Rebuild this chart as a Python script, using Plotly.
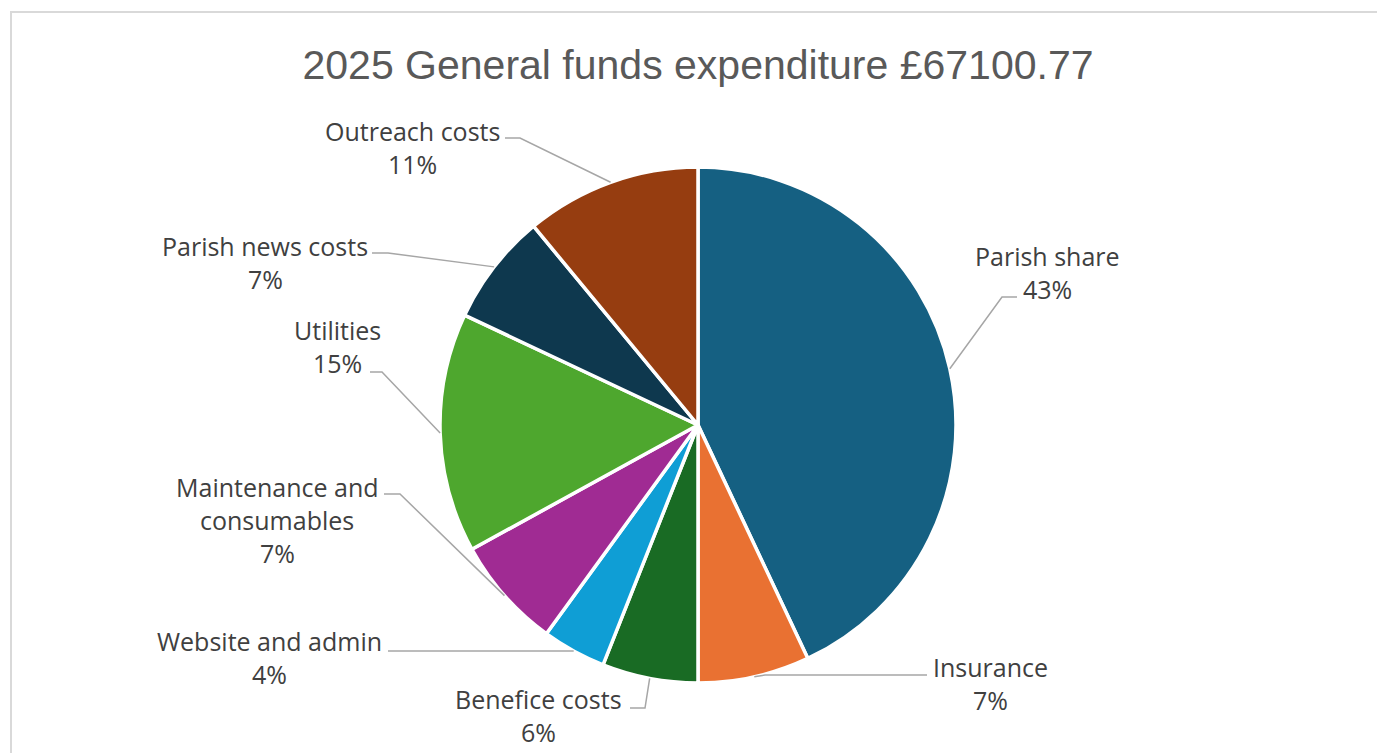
import math
import plotly.graph_objects as go

# Expenditure breakdown (percent of total general funds)
categories = [
    "Parish share",
    "Insurance",
    "Benefice costs",
    "Website and admin",
    "Maintenance and consumables",
    "Utilities",
    "Parish news costs",
    "Outreach costs",
]
percent_share = [43, 7, 6, 4, 7, 15, 7, 11]
label_lines = [
    ["Parish share"],
    ["Insurance"],
    ["Benefice costs"],
    ["Website and admin"],
    ["Maintenance and", "consumables"],
    ["Utilities"],
    ["Parish news costs"],
    ["Outreach costs"],
]
slice_colors = ["#156082", "#E97132", "#196B24", "#0F9ED5",
                "#A02B93", "#4EA72E", "#0E384E", "#963D10"]
title_text = "2025 General funds expenditure £67100.77"

# ---- layout geometry (pixels) ----
W, H = 1377, 753
CX, CY, R = 698, 425, 258
LINE_GAP = 33
# label block: centre x, y of first text line
label_anchor = [(1047, 256), (990, 667), (538, 699), (269, 641),
                (277, 487), (337, 330), (265, 246), (412, 131)]
# leader: attach point on label side (x, y) and elbow x
leader_attach = [(1017, 297, 1002), (927, 675, 765), (630, 708, 645),
                 (388, 651, 402), (384, 494, 400), (370, 372, 382),
                 (372, 253, 388), (505, 138, 520)]


def px(x):
    return x / W


def py(y):
    return 1 - y / H


fig = go.Figure(go.Pie(
    labels=categories,
    values=percent_share,
    sort=False,
    direction="clockwise",
    rotation=0,
    marker=dict(colors=slice_colors, line=dict(color="white", width=3.5)),
    textinfo="none",
    hoverinfo="label+percent",
    showlegend=False,
    domain=dict(x=[px(CX - R), px(CX + R)], y=[py(CY + R), py(CY - R)]),
))

total = sum(percent_share)
annotations = []
shapes = []
cum = 0
for i, v in enumerate(percent_share):
    mid = 2 * math.pi * (cum + v / 2) / total
    cum += v
    ex = CX + R * math.sin(mid)
    ey = CY - R * math.cos(mid)
    ax, ay, elx = leader_attach[i]
    shapes.append(dict(
        type="path", xref="paper", yref="paper",
        path=f"M {px(ax)},{py(ay)} L {px(elx)},{py(ay)} L {px(ex)},{py(ey)}",
        line=dict(color="#A6A6A6", width=1.5),
    ))
    cx, cy = label_anchor[i]
    lines = label_lines[i] + [f"{round(100 * v / total)}%"]
    for k, t in enumerate(lines):
        annotations.append(dict(
            x=px(cx), y=py(cy + k * LINE_GAP), xref="paper", yref="paper",
            text=t, showarrow=False, xanchor="center", yanchor="middle",
            font=dict(family="Open Sans, Liberation Sans, sans-serif", size=25, color="#404040"),
        ))

# chart-area frame
shapes.append(dict(type="rect", xref="paper", yref="paper",
                   x0=px(11), x1=1.05, y0=-0.05, y1=py(12),
                   line=dict(color="#D9D9D9", width=2), fillcolor="rgba(0,0,0,0)"))

fig.update_layout(
    width=W, height=H,
    margin=dict(l=0, r=0, t=0, b=0),
    paper_bgcolor="white", plot_bgcolor="white",
    title=dict(text=title_text, x=px(698), xanchor="center", y=py(65), yanchor="middle",
               font=dict(family="Liberation Sans, Arial, sans-serif", size=41, color="#595959")),
    annotations=annotations,
    shapes=shapes,
)

fig.write_html("out.html")
